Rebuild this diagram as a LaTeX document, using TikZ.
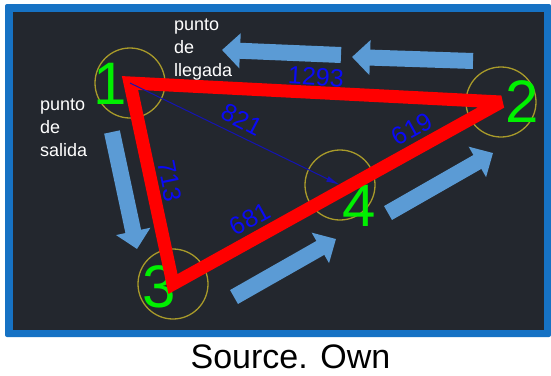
\documentclass[tikz,border=0pt]{standalone}
\usepackage{fontspec}
\setmainfont{Liberation Sans}
\usetikzlibrary{arrows.meta}
\definecolor{fondo}{HTML}{23272E}
\definecolor{marco}{HTML}{1672C4}
\definecolor{celeste}{HTML}{5B9BD5}
\definecolor{oliva}{HTML}{A89A2A}
\definecolor{rojo}{HTML}{FF0000}
\definecolor{verde}{HTML}{00F000}
\definecolor{azul}{HTML}{0A0AF5}
\definecolor{azuloscuro}{HTML}{1414B4}

\begin{document}
\begin{tikzpicture}[
  x=1pt, y=-1pt,
  sitio/.style={circle, draw=oliva, line width=1.3pt, minimum size=70pt, inner sep=0pt},
  num/.style={text=verde, font=\fontsize{60}{60}\selectfont, inner sep=0pt},
  cota/.style={text=azul, font=\fontsize{25}{25}\selectfont, inner sep=0pt},
  ruta/.style={draw=rojo, line width=13pt, line join=miter, miter limit=2},
  flecha/.style={draw=celeste, line width=16pt, -{Triangle[length=18pt,width=34pt]}},
  dist/.style={draw=azuloscuro, line width=1pt, -{Latex[length=14pt,width=6pt]}},
  texto/.style={text=white, font=\fontsize{18}{23}\selectfont, align=left, inner sep=0pt, anchor=base west}
]
  \fill[white] (0,0) rectangle (551,375);
  \useasboundingbox (0,0) rectangle (551,375);
  \fill[marco, rounded corners=2pt] (5,4) rectangle (551,337);
  \fill[fondo] (13,12) rectangle (544,330);

  % flechas de recorrido
  \foreach \i/\xa/\ya/\xb/\yb in {1/473/61/352/57, 2/341/55/222/50, 3/112/132/137/249,
                                  4/234/297/336/239, 5/388/213/493/153}{
    \coordinate (ini\i) at (\xa,\ya);
    \coordinate (fin\i) at (\xb,\yb);
    \draw[flecha] (ini\i) -- (fin\i);
  }

  \node[sitio] (c1) at (130,83) {};
  \node[sitio] (c2) at (501,102) {};
  \node[sitio] (c3) at (173,284) {};
  \node[sitio] (c4) at (340,185) {};

  \node[num] (n1) at (110,84) {1};
  \node[num] (n2) at (522,102) {2};
  \node[num] (n3) at (159,287) {3};
  \node[num] (n4) at (359,206) {4};

  \draw[ruta] (c1.center) -- (c2.center) -- (c3.center) -- cycle;
  \draw[dist] (c1.center) -- (c4.center);

  \node[cota, rotate=-3.5] (l12) at (316,77) {1293};
  \node[cota, rotate=-27.6] (l14) at (242,120) {821};
  \node[cota, rotate=-78.5] (l13) at (170,181) {713};
  \node[cota, rotate=29] (l34) at (250,219) {681};
  \node[cota, rotate=29] (l42) at (412,129) {619};

  \node[texto] (llegada) at (174,76) {punto\\de\\llegada};
  \node[texto] (salida) at (40,156.7) {punto\\de\\salida};

  \node[font=\fontsize{34}{34}\selectfont, anchor=base] (fuente) at (290.5,368) {Source. Own};
\end{tikzpicture}
\end{document}
